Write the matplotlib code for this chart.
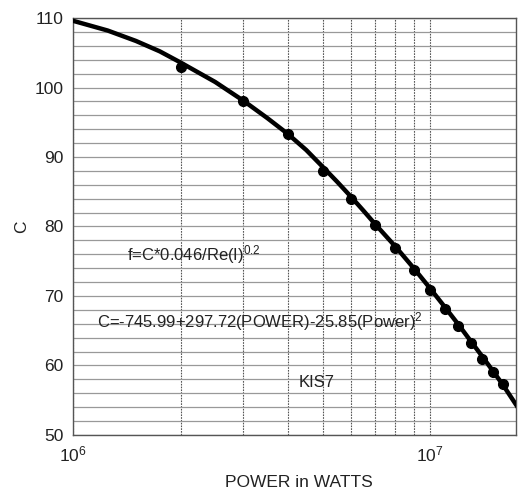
import matplotlib
matplotlib.use("Agg")
import matplotlib.pyplot as plt
from matplotlib.ticker import MultipleLocator, LogLocator, FixedLocator, NullFormatter
import numpy as np

plt.rcParams['font.family'] = ['Liberation Sans', 'DejaVu Sans']
plt.rcParams['mathtext.default'] = 'regular'

# measured points (power in W, C)
power_pts = [2.0e6, 3.0e6, 4.0e6, 5.0e6, 6.0e6, 7.0e6, 8.0e6, 9.0e6,
             1.0e7, 1.1e7, 1.2e7, 1.3e7, 1.4e7, 1.5e7, 1.6e7]
c_pts = [103.0, 98.1, 93.3, 88.0, 84.0, 80.2, 76.9, 73.7,
         70.8, 68.1, 65.7, 63.3, 60.9, 59.0, 57.3]

# fitted curve
power_fit = [1.0e6, 1.25e6, 1.5e6, 1.75e6, 2.0e6, 2.5e6, 3.0e6, 3.5e6, 4.0e6,
             4.5e6, 5.0e6, 5.5e6, 6.0e6, 6.5e6, 7.0e6, 8.0e6, 9.0e6, 1.0e7,
             1.1e7, 1.2e7, 1.3e7, 1.4e7, 1.5e7, 1.6e7, 1.78e7]
c_fit = [109.6, 108.2, 106.7, 105.2, 103.6, 100.8, 98.1, 95.6, 93.3,
         91.0, 88.6, 86.4, 84.3, 82.3, 80.4, 77.1, 74.0, 71.1,
         68.4, 65.9, 63.5, 61.3, 59.2, 57.2, 53.6]

fig = plt.figure(figsize=(5.19, 4.92), dpi=100)
ax = fig.add_axes([0.1407, 0.1159, 0.8535, 0.8475])

ax.plot(power_fit, c_fit, color='black', lw=3.2, solid_joinstyle='round', zorder=3)
ax.plot(power_pts, c_pts, 'o', color='black', markersize=7, zorder=4)

ax.set_xscale('log')
ax.set_xlim(1e6, 1.74e7)
ax.set_ylim(50, 110)

ax.xaxis.set_major_locator(FixedLocator([1e6, 1e7]))
ax.set_xticklabels(['10$^6$', '10$^7$'])
ax.xaxis.set_minor_locator(LogLocator(base=10, subs=np.arange(2, 10)))
ax.xaxis.set_minor_formatter(NullFormatter())
ax.yaxis.set_major_locator(MultipleLocator(10))
ax.yaxis.set_minor_locator(MultipleLocator(2))

ax.tick_params(which='both', length=0, labelsize=12.5, colors='#222222')
ax.tick_params(axis='x', pad=7)
ax.tick_params(axis='y', pad=7)

ax.grid(axis='y', which='both', color='#999999', lw=0.9)
ax.grid(axis='x', which='both', color='#555555', lw=0.8, linestyle=(0, (1.5, 1)))

for s in ax.spines.values():
    s.set_color('#555555')
    s.set_linewidth(1.0)

ax.set_xlabel('POWER in WATTS', fontsize=12.5, color='#222222')
ax.xaxis.set_label_coords(0.51, -0.113)
ax.xaxis.label.set_va('center')
ax.set_ylabel('C', fontsize=12.5, color='#222222')
ax.yaxis.set_label_coords(-0.115, 0.5)
ax.yaxis.label.set_va('center')

ax.text(1.42e6, 75.9, 'f=C*0.046/Re(I)$^{0.2}$', fontsize=12, va='center', color='#222222')
ax.text(1.17e6, 66.3, 'C=-745.99+297.72(POWER)-25.85(Power)$^{2}$', fontsize=12,
        va='center', color='#222222')
ax.text(4.27e6, 57.5, 'KIS7', fontsize=12, va='center', color='#222222')

fig.savefig('out.png', dpi=100)
